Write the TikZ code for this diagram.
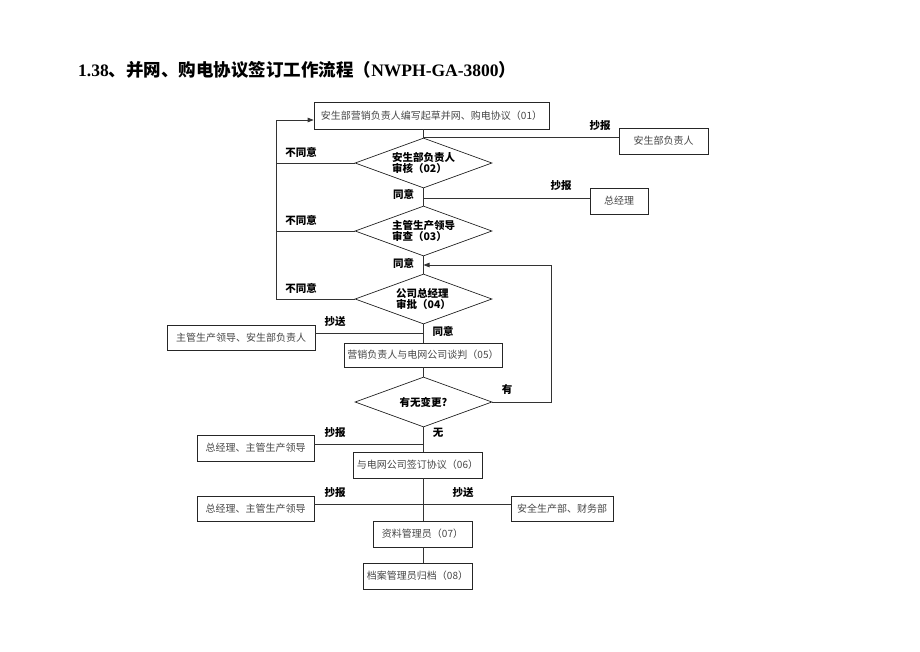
\documentclass[tikz,border=0pt]{standalone}
\usepackage{fontspec}
\setmainfont{Liberation Serif}
\newfontfamily\cjk{Noto Sans CJK SC}
\usetikzlibrary{arrows.meta,shapes.geometric}
\begin{document}
\begin{tikzpicture}[x=1pt,y=-1pt,
  box/.style={draw=black!85, line width=0.7pt, inner sep=0pt, font=\cjk\fontsize{10}{12}\selectfont, text=black!72},
  dia/.style={draw=black!85, line width=0.7pt, shape=diamond, aspect=2.74, inner sep=0pt, minimum width=137pt, minimum height=50pt, align=left, font=\cjk\bfseries\fontsize{10.5}{9.5}\selectfont},
  lab/.style={font=\cjk\bfseries\fontsize{10.5}{12}\selectfont, inner sep=0pt},
  ln/.style={draw=black!80, line width=0.7pt},
  arr/.style={ln, -{Triangle[length=6pt,width=4.5pt]}}]
\useasboundingbox[fill=white] (0,0) rectangle (920,651);

% title
\node[anchor=west, inner sep=0pt, font=\fontsize{17.5}{20}\selectfont] (title) at (78,70)
 {\bfseries 1.38{\cjk\bfseries 、并网、购电协议签订工作流程（}NWPH-GA-3800{\cjk\bfseries ）}};

% boxes
\node[box, minimum width=235pt, minimum height=27pt] (b01) at (431.5,115.5) {安生部营销负责人编写起草并网、购电协议（01）};
\node[box, minimum width=89pt, minimum height=26pt] (bA) at (663.5,141) {安生部负责人};
\node[box, minimum width=58pt, minimum height=26pt] (bB) at (619,201) {总经理};
\node[box, minimum width=148pt, minimum height=25pt] (bC) at (241,337.5) {主管生产领导、安生部负责人};
\node[box, minimum width=158pt, minimum height=24pt] (b05) at (423,355) {营销负责人与电网公司谈判（05）};
\node[box, minimum width=117pt, minimum height=26pt] (bD) at (255.5,448) {总经理、主管生产领导};
\node[box, minimum width=129pt, minimum height=26pt] (b06) at (417.5,465) {与电网公司签订协议（06）};
\node[box, minimum width=117pt, minimum height=25pt] (bE) at (255.5,508.5) {总经理、主管生产领导};
\node[box, minimum width=102pt, minimum height=25pt] (bF) at (562,508.5) {安全生产部、财务部};
\node[box, minimum width=99pt, minimum height=26pt] (b07) at (422.5,534) {资料管理员（07）};
\node[box, minimum width=109pt, minimum height=26pt] (b08) at (417.5,576) {档案管理员归档（08）};

% diamonds
\node[dia] (d02) at (423.5,163) {安生部负责人\\审核（02）};
\node[dia] (d03) at (423.5,231) {主管生产领导\\审查（03）};
\node[dia] (d04) at (423.5,299) {公司总经理\\审批（04）};
\node[dia] (d05) at (423.5,402) {有无变更?};

% junctions
\coordinate (j2) at (423.5,198);
\coordinate (jr) at (551,265);
\coordinate (j4) at (423.5,333);
\coordinate (j5) at (423.5,444);
\coordinate (j6) at (423.5,504);
\coordinate (jl) at (276,120);

% spine
\draw[ln] (b01.south -| d02.north) -- (d02.north);
\draw[ln] (d02.south) -- (d03.north);
\draw[ln] (d03.south) -- (d04.north);
\draw[ln] (d04.south) -- (b05.north -| d04.south);
\draw[ln] (b05.south -| d05.north) -- (d05.north);
\draw[ln] (d05.south) -- (b06.north -| d05.south);
\draw[ln] (b06.south -| j6) -- (b07.north -| j6);
\draw[ln] (b07.south -| j6) -- (b08.north -| j6);

% side branches
\draw[ln] (d02.north) -- (bA.west |- d02.north);
\draw[ln] (j2) -- (bB.west |- j2);
\draw[ln] (bC.east |- j4) -- (j4);
\draw[ln] (bD.east |- j5) -- (j5);
\draw[ln] (bE.east |- j6) -- (bF.west |- j6);

% left loop
\draw[ln] (d02.west) -- (d02.west -| jl);
\draw[ln] (d03.west) -- (d03.west -| jl);
\draw[arr] (d04.west) -| (jl) -- (b01.west |- jl);

% right loop
\draw[arr] (d05.east) -| (jr) -- (d04.north |- jr);

% labels
\node[lab] (l1) at (600,126) {抄报};
\node[lab] (l2) at (301,152) {不同意};
\node[lab] (l3) at (403.5,194) {同意};
\node[lab] (l4) at (561,186) {抄报};
\node[lab] (l5) at (301,220) {不同意};
\node[lab] (l6) at (403.5,263) {同意};
\node[lab] (l7) at (301,288) {不同意};
\node[lab] (l8) at (335,322) {抄送};
\node[lab] (l9) at (443,331) {同意};
\node[lab] (l10) at (507,390) {有};
\node[lab] (l11) at (438,433) {无};
\node[lab] (l12) at (335,433) {抄报};
\node[lab] (l13) at (335,493) {抄报};
\node[lab] (l14) at (463,493) {抄送};
\end{tikzpicture}
\end{document}
